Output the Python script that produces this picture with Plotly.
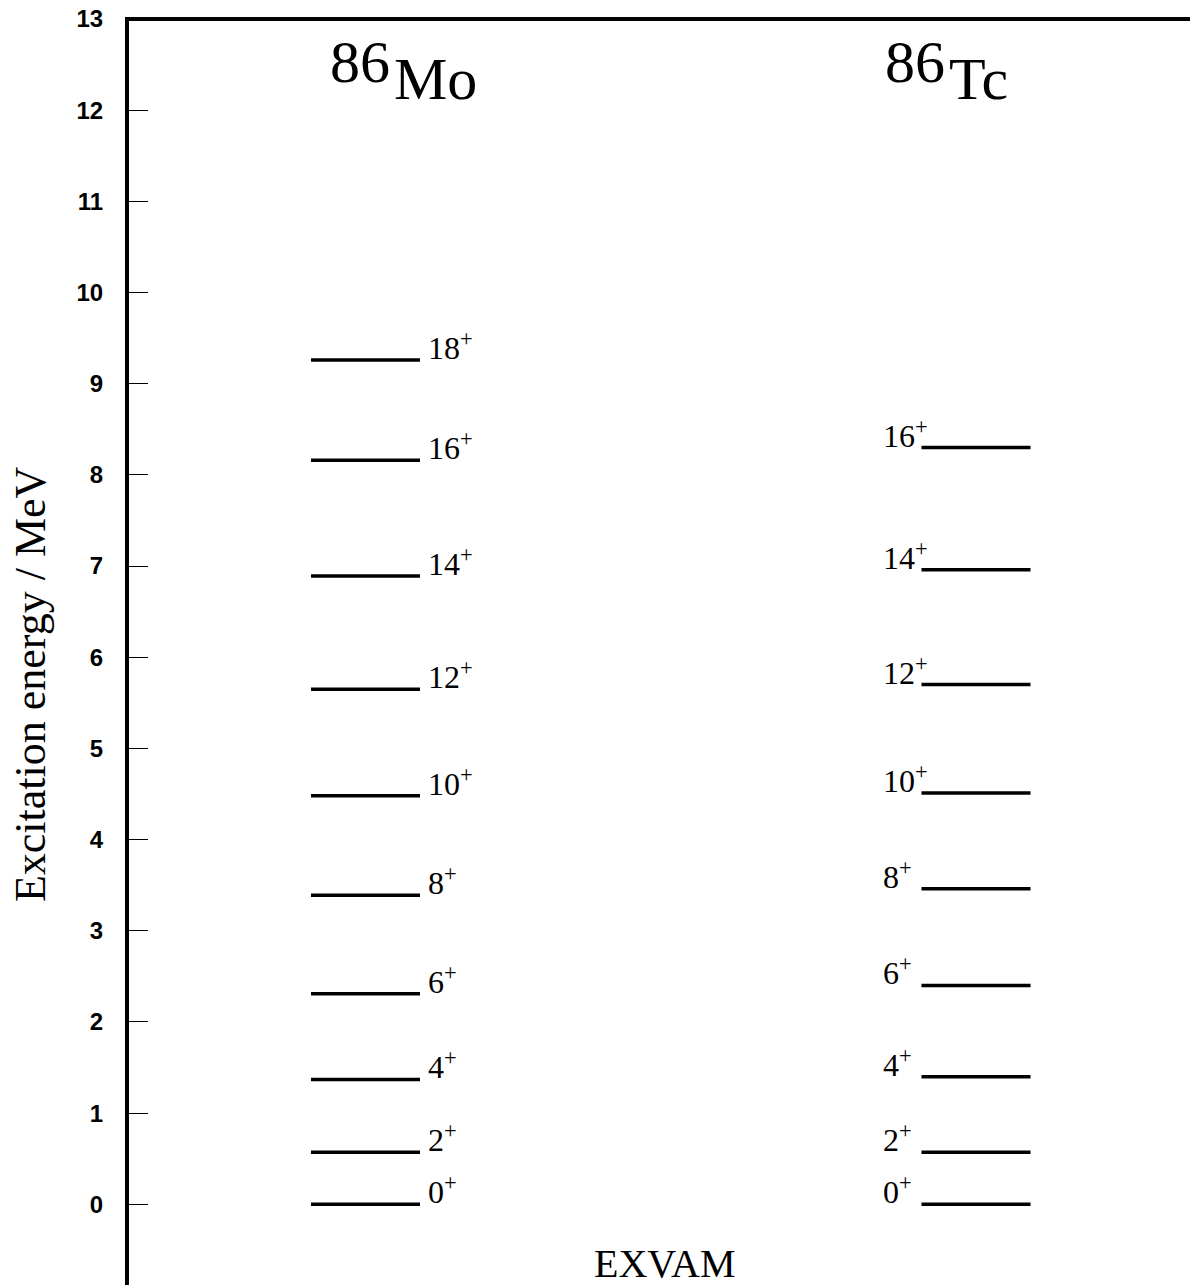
import plotly.graph_objects as go

# ---- data ----
nuclei = ["Mo", "Tc"]
mass_number = "86"
spins = ["0", "2", "4", "6", "8", "10", "12", "14", "16", "18"]
mo_energies = [0.0, 0.57, 1.37, 2.31, 3.39, 4.48, 5.65, 6.89, 8.16, 9.26]
tc_energies = [0.0, 0.57, 1.40, 2.40, 3.46, 4.51, 5.70, 6.96, 8.30]
y_ticks = list(range(0, 14))
y_title = "Excitation energy / MeV"
x_label = "EXVAM"

# ---- layout constants ----
W, H = 1190, 1285
L, T = 129, 19
HALF = 0.0893
SERIF = "Liberation Serif, Times New Roman, serif"

fig = go.Figure()


def add_levels(center, energies, label_side):
    xs, ys = [], []
    for e in energies:
        xs += [center - HALF, center + HALF, None]
        ys += [e, e, None]
    fig.add_trace(go.Scatter(x=xs, y=ys, mode="lines",
                             line=dict(color="black", width=3.5),
                             hoverinfo="skip", showlegend=False))
    for s, e in zip(spins, energies):
        if label_side == "right":
            lx = center + 0.0985
        else:
            lx = center - 0.156
        fig.add_annotation(x=lx, y=e, text=f"{s}<sup>+</sup>", showarrow=False,
                           xanchor="left", yanchor="bottom", yshift=-8,
                           font=dict(family=SERIF, size=32, color="black"))


add_levels(1, mo_energies, "right")
add_levels(2, tc_energies, "left")

# nucleus titles
for center, name, junction in [(1, nuclei[0], 1.043), (2, nuclei[1], 1.9525)]:
    fig.add_annotation(x=junction, y=12.53, text=mass_number, showarrow=False,
                       xanchor="right", yanchor="middle",
                       font=dict(family=SERIF, size=60, color="black"))
    fig.add_annotation(x=junction, y=12.34, text=name, showarrow=False,
                       xanchor="left", yanchor="middle",
                       font=dict(family=SERIF, size=60, color="black"))

# x label inside plot
fig.add_annotation(x=0.5052, xref="paper", y=-0.644, text=x_label, showarrow=False,
                   xanchor="center", yanchor="middle",
                   font=dict(family=SERIF, size=40, color="black"))

# y axis title
fig.add_annotation(x=-0.0933, xref="paper", y=0.4747, yref="paper", text=y_title,
                   textangle=-90, showarrow=False, xanchor="center", yanchor="middle",
                   font=dict(family=SERIF, size=44, color="black"))

# top frame line
fig.add_shape(type="line", xref="paper", yref="paper", x0=-4 / (W - L), x1=1.01, y0=1, y1=1,
              line=dict(color="black", width=4))

fig.update_layout(
    width=W, height=H, autosize=False,
    margin=dict(l=L, r=0, t=T, b=0, pad=0),
    plot_bgcolor="white", paper_bgcolor="white",
    xaxis=dict(range=[0.61262, 2.35053], visible=False, fixedrange=True),
    yaxis=dict(range=[-0.885, 13], tickvals=y_ticks, ticktext=[str(v) for v in y_ticks],
               showgrid=False, zeroline=False, showline=True, linewidth=4, linecolor="black",
               ticks="inside", ticklen=19, tickwidth=1, tickcolor="black",
               ticklabelstandoff=17, fixedrange=True,
               tickfont=dict(family="Liberation Sans, Arial, sans-serif", size=24,
                             color="black", weight="bold")),
)

fig.write_html("out.html", config={"displayModeBar": False},
               post_script="document.body.style.margin='0';document.body.style.overflow='hidden';")
